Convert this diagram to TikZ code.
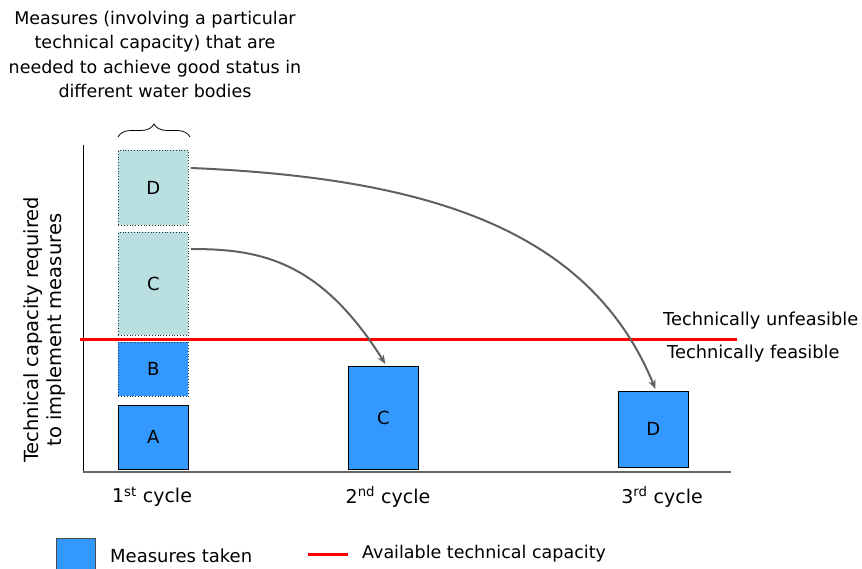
\documentclass[tikz,border=0pt]{standalone}
\usepackage{fontspec}
\setmainfont{DejaVu Sans}
\usetikzlibrary{arrows.meta,decorations.pathreplacing,calc}
\definecolor{taken}{HTML}{3399FF}
\definecolor{needed}{HTML}{B9DFE1}
\definecolor{capred}{HTML}{FF0000}
\definecolor{arrowgrey}{HTML}{606060}
\begin{document}
\begin{tikzpicture}[x=1pt,y=-1pt,
  lbl/.style={font=\fontsize{17.5}{21}\selectfont, inner sep=0pt},
  boxfont/.style={font=\fontsize{18}{21}\selectfont},
  donebox/.style={draw=black, fill=taken, line width=0.8pt, boxfont},
  dotbox/.style={draw=black!80, fill=#1, dotted, line width=0.8pt, boxfont},
  movearrow/.style={draw=arrowgrey, line width=2pt, -{Stealth[length=9pt,width=7pt]}}]
\useasboundingbox (0,0) rectangle (862,569);

% axes
\draw[black, line width=0.8pt] (83,145) -- (83,472);
\draw[black!60, line width=1.5pt] (83,472) -- (731,472);

% first cycle: measures needed
\node[dotbox=needed, minimum width=70pt, minimum height=75pt, anchor=north west] (d1) at (118,150) {D};
\node[dotbox=needed, minimum width=70pt, minimum height=103pt, anchor=north west] (c1) at (118,232) {C};
\node[dotbox=taken, minimum width=70pt, minimum height=54pt, anchor=north west] (b1) at (118,342) {B};
\node[donebox, minimum width=70pt, minimum height=64pt, anchor=north west] (a1) at (118,405) {A};

% later cycles
\node[donebox, minimum width=70pt, minimum height=103pt, anchor=north west] (c2) at (348,366) {C};
\node[donebox, minimum width=70pt, minimum height=76pt, anchor=north west] (d3) at (618,391) {D};

% available capacity
\draw[capred, line width=3pt] (80,339) -- (737,339);
\node[lbl, font=\fontsize{17.8}{21}\selectfont, anchor=west] (unf) at (663,321) {Technically unfeasible};
\node[lbl, font=\fontsize{17.8}{21}\selectfont, anchor=west] (fea) at (667,354) {Technically feasible};

% postponed measures
\draw[movearrow] ($(c1.north east)+(2,17)$) .. controls (260,249) and (320,260) .. ($(c2.north)+(2,-2)$);
\draw[movearrow] ($(d1.north east)+(2,18)$) .. controls (430,178) and (590,230) .. ($(d3.north)+(2,-2)$);

% brace and heading
\draw[decorate, decoration={brace, amplitude=13pt, aspect=0.5}, line width=0.8pt] (118,137) -- (190,137);
\node[lbl, align=center, font=\fontsize{17.5}{24.5}\selectfont, anchor=north] (head) at (155,11)
  {Measures (involving a particular\\technical capacity) that are\\needed to achieve good status in\\different water bodies};

% axis title
\node[lbl, align=center, rotate=90, font=\fontsize{19.5}{23}\selectfont] (ytitle) at (45,330)
  {Technical capacity required\\to implement measures};

% cycle labels
\node[lbl, font=\fontsize{19}{21}\selectfont] (cy1) at (152,497) {1\textsuperscript{st} cycle};
\node[lbl, font=\fontsize{19}{21}\selectfont] (cy2) at (388,497) {2\textsuperscript{nd} cycle};
\node[lbl, font=\fontsize{19}{21}\selectfont] (cy3) at (662,497) {3\textsuperscript{rd} cycle};

% legend
\node[draw=black!70, fill=taken, line width=0.6pt, minimum width=39pt, minimum height=34pt, anchor=north west, inner sep=0pt] (legbox) at (56,538) {};
\node[lbl, font=\fontsize{18}{21}\selectfont, anchor=west] (legtaken) at (110,556) {Measures taken};
\coordinate (lr1) at (308,554);
\coordinate (lr2) at (348,554);
\draw[capred, line width=3pt] (lr1) -- (lr2);
\node[lbl, anchor=west] (legcap) at (362,554) {Available technical capacity};
\end{tikzpicture}
\end{document}
